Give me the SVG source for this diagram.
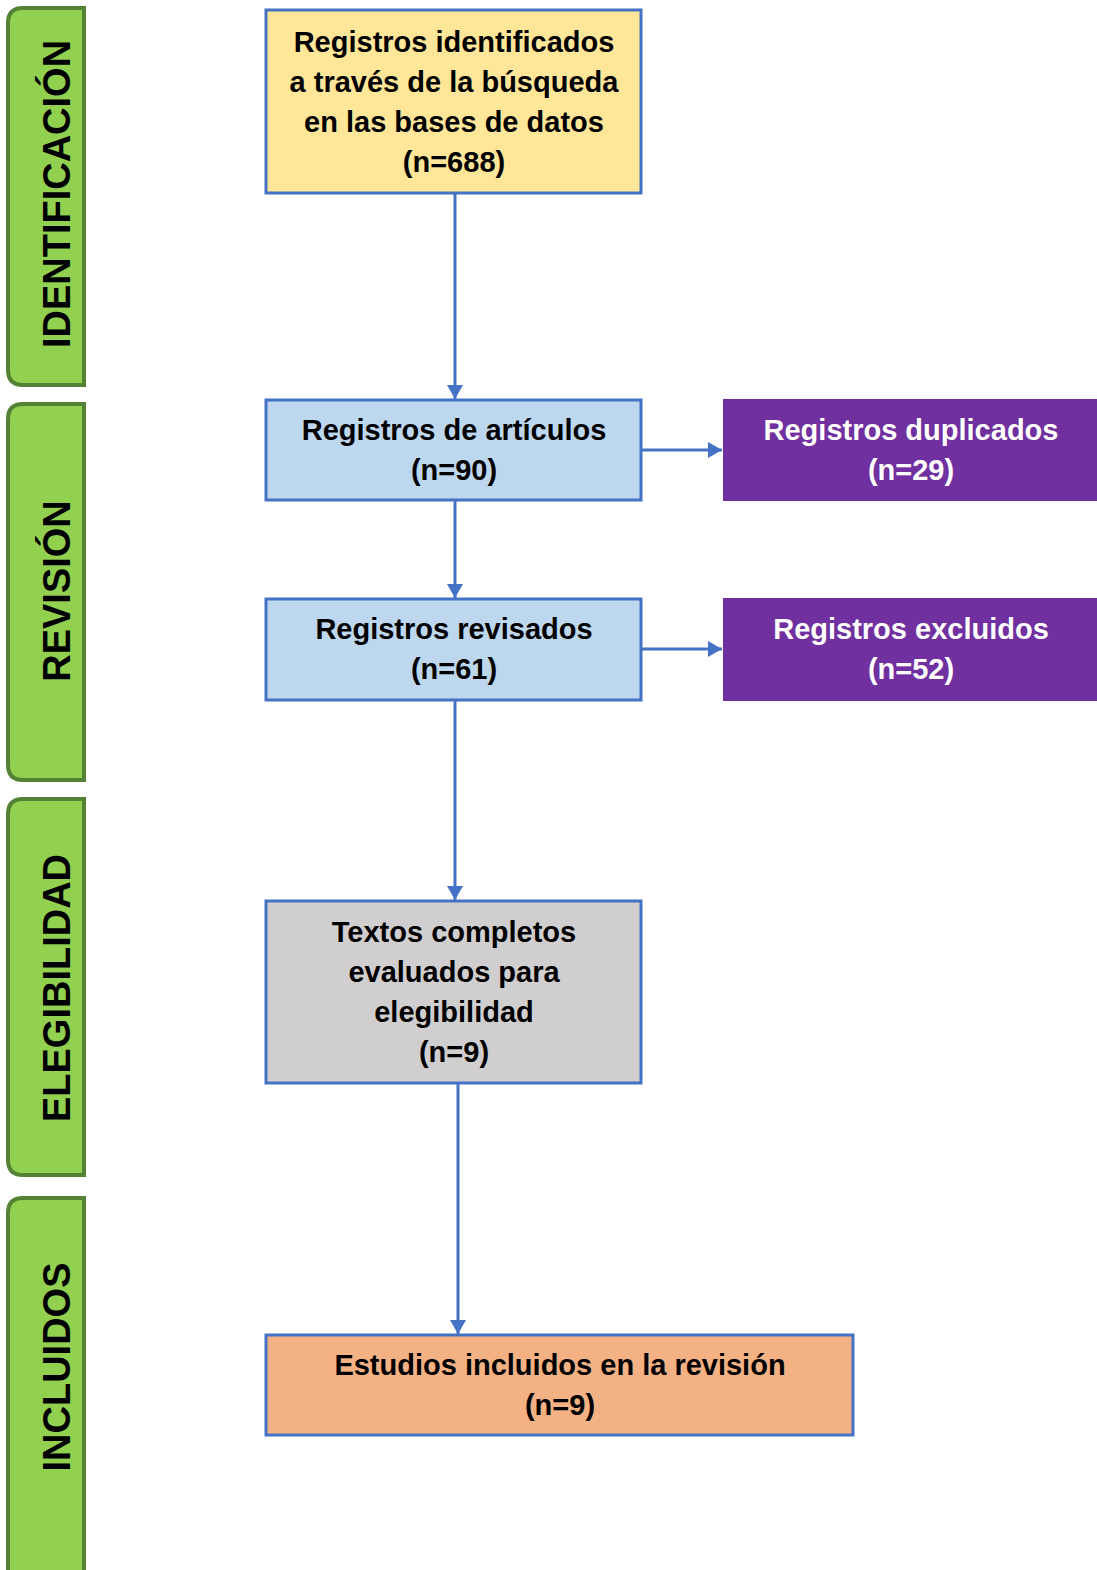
<svg xmlns="http://www.w3.org/2000/svg" width="1097" height="1570" viewBox="0 0 1097 1570">
<style>
.tab{fill:#92D050;stroke:#548235;stroke-width:4}
.tabt{font-family:"Liberation Sans",Arial,sans-serif;font-weight:bold;font-size:38px;fill:#000;text-anchor:middle}
.box{stroke:#4472C4;stroke-width:3}
.t{font-family:"Liberation Sans",Arial,sans-serif;font-weight:bold;font-size:29px;fill:#000;text-anchor:middle}
.w{fill:#fff}
.conn{stroke:#4472C4;stroke-width:3;fill:none;marker-end:url(#ah)}
</style>
<defs>
<marker id="ah" markerUnits="userSpaceOnUse" markerWidth="16" markerHeight="16" refX="14" refY="8" orient="auto">
<path d="M0,0 L14,8 L0,16 Z" fill="#4472C4"/>
</marker>
</defs>
<rect width="1097" height="1570" fill="#fff"/>
<g id="tab-identificacion">
<path class="tab" d="M84,8 L23,8 Q8,8 8,23 L8,370 Q8,385 23,385 L84,385 Z"/>
<text class="tabt" transform="translate(70,194) rotate(-90)">IDENTIFICACIÓN</text>
</g>
<g id="tab-revision">
<path class="tab" d="M84,404 L23,404 Q8,404 8,419 L8,765 Q8,780 23,780 L84,780 Z"/>
<text class="tabt" transform="translate(70,591) rotate(-90)">REVISIÓN</text>
</g>
<g id="tab-elegibilidad">
<path class="tab" d="M84,799 L23,799 Q8,799 8,814 L8,1160 Q8,1175 23,1175 L84,1175 Z"/>
<text class="tabt" transform="translate(70,988) rotate(-90)">ELEGIBILIDAD</text>
</g>
<g id="tab-incluidos">
<path class="tab" d="M84,1198 L23,1198 Q8,1198 8,1213 L8,1580 L84,1580 Z"/>
<text class="tabt" transform="translate(70,1367) rotate(-90)">INCLUIDOS</text>
</g>
<g id="connectors">
<line class="conn" x1="455" y1="193" x2="455" y2="399"/>
<line class="conn" x1="455" y1="500" x2="455" y2="598"/>
<line class="conn" x1="455" y1="700" x2="455" y2="900"/>
<line class="conn" x1="458" y1="1084" x2="458" y2="1334"/>
<line class="conn" x1="642" y1="450" x2="722" y2="450"/>
<line class="conn" x1="642" y1="649" x2="722" y2="649"/>
</g>
<g id="n-identificados">
<rect class="box" x="266" y="10" width="375" height="183" fill="#FFE699"/>
<text class="t" x="454" y="52">Registros identificados</text>
<text class="t" x="454" y="92">a través de la búsqueda</text>
<text class="t" x="454" y="132">en las bases de datos</text>
<text class="t" x="454" y="172">(n=688)</text>
</g>
<g id="n-articulos">
<rect class="box" x="266" y="400" width="375" height="100" fill="#BDD7EE"/>
<text class="t" x="454" y="440">Registros de artículos</text>
<text class="t" x="454" y="480">(n=90)</text>
</g>
<g id="n-duplicados">
<rect x="723" y="399" width="374" height="102" fill="#7030A0"/>
<text class="t w" x="911" y="440">Registros duplicados</text>
<text class="t w" x="911" y="480">(n=29)</text>
</g>
<g id="n-revisados">
<rect class="box" x="266" y="599" width="375" height="101" fill="#BDD7EE"/>
<text class="t" x="454" y="639">Registros revisados</text>
<text class="t" x="454" y="679">(n=61)</text>
</g>
<g id="n-excluidos">
<rect x="723" y="598" width="374" height="103" fill="#7030A0"/>
<text class="t w" x="911" y="639">Registros excluidos</text>
<text class="t w" x="911" y="679">(n=52)</text>
</g>
<g id="n-textos">
<rect class="box" x="266" y="901" width="375" height="182" fill="#D0CECE"/>
<text class="t" x="454" y="942">Textos completos</text>
<text class="t" x="454" y="982">evaluados para</text>
<text class="t" x="454" y="1022">elegibilidad</text>
<text class="t" x="454" y="1062">(n=9)</text>
</g>
<g id="n-incluidos">
<rect class="box" x="266" y="1335" width="587" height="100" fill="#F4B183"/>
<text class="t" x="560" y="1375">Estudios incluidos en la revisión</text>
<text class="t" x="560" y="1415">(n=9)</text>
</g>
</svg>
